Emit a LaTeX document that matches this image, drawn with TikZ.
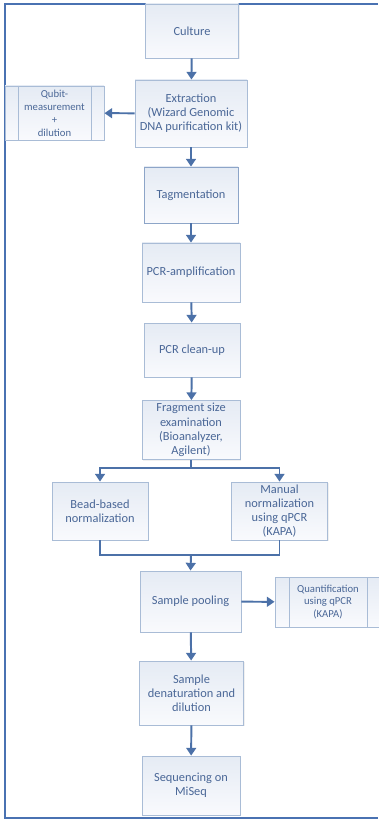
\documentclass[tikz,border=0pt]{standalone}
\usepackage{fontspec}
\setmainfont{Carlito}
\usetikzlibrary{arrows.meta,positioning,calc,shadows}
\definecolor{boxline}{HTML}{A9BCD6}
\definecolor{boxtop}{HTML}{E5EBF4}
\definecolor{boxbottom}{HTML}{F9FAFD}
\definecolor{boxtext}{HTML}{4A6797}
\definecolor{flowline}{HTML}{4C71A8}
\definecolor{framecol}{HTML}{4A72B2}

\begin{document}
\begin{tikzpicture}[
  x=0.025cm, y=-0.025cm,
  stepbox/.style={rectangle, draw=boxline, line width=0.6pt,
                  top color=boxtop, bottom color=boxbottom,
                  drop shadow={opacity=0.12, shadow xshift=0.8pt, shadow yshift=-0.8pt},
                  font=\fontsize{8.8}{10.1}\selectfont, text=boxtext, align=center,
                  inner sep=1pt},
  dims/.style 2 args={minimum width=#1*0.025cm, minimum height=#2*0.025cm},
  procbox/.style={stepbox, font=\fontsize{7.6}{9.2}\selectfont, path picture={
      \draw[boxline, line width=0.6pt]
        ([xshift=#1*0.025cm]path picture bounding box.north west) --
        ([xshift=#1*0.025cm]path picture bounding box.south west);
      \draw[boxline, line width=0.6pt]
        ([xshift=-#1*0.025cm]path picture bounding box.north east) --
        ([xshift=-#1*0.025cm]path picture bounding box.south east);}},
  flow/.style={draw=flowline, line width=1.4pt},
  >={Triangle[width=7pt,length=5.5pt]}
]
  \useasboundingbox (0,0) rectangle (378,819);

  % Frame
  \draw[framecol, line width=1.1pt] (378,4) -- (5,4) -- (5,818) -- (378,818);

  % Main steps
  \node[stepbox, dims={93}{54}]  (culture) at (192,31)    {Culture};
  \node[stepbox, dims={112}{67}] (extract) at (191,113.5) {Extraction\\(Wizard Genomic\\DNA purification kit)};
  \node[stepbox, dims={94}{56}, draw=boxline!70!flowline] (tag) at (191,195) {Tagmentation};
  \node[stepbox, dims={98}{59}]  (pcramp)  at (191,272.5) {PCR-amplification};
  \node[stepbox, dims={96}{54}]  (cleanup) at (192,350)   {PCR clean-up};
  \node[stepbox, dims={98}{59}]  (frag)    at (191,430)   {Fragment size\\examination\\(Bioanalyzer,\\Agilent)};
  \node[stepbox, dims={96}{58}]  (bead)    at (100,511)   {Bead-based\\normalization};
  \node[stepbox, dims={96}{58}]  (manual)  at (279.5,511) {Manual\\normalization\\using qPCR\\(KAPA)};
  \node[stepbox, dims={101}{61}] (pool)    at (190.5,601.5) {Sample pooling};
  \node[stepbox, dims={104}{64}] (denat)   at (191.5,693) {Sample\\denaturation and\\dilution};
  \node[stepbox, dims={98}{59}]  (seq)     at (191,785.5) {Sequencing on\\MiSeq};

  % Side processes
  \node[procbox=13, dims={99}{54}]  (qubit) at (54.5,113) {Qubit-\\measurement\\+\\dilution};
  \node[procbox=14, dims={106}{50}] (quant) at (328,602)  {Quantification\\using qPCR\\(KAPA)};

  % Arrows down the chain
  \draw[flow, ->] (culture) -- (extract);
  \draw[flow, ->] (extract) -- (qubit);
  \draw[flow, ->] (extract) -- (tag);
  \draw[flow, ->] (tag)     -- (pcramp);
  \draw[flow, ->] (pcramp)  -- (cleanup);
  \draw[flow, ->] (cleanup) -- (frag);

  % Split into two normalization routes
  \coordinate (split) at (191,468);
  \draw[flow] (frag.south) -- (split);
  \draw[flow, ->] (split) -| (bead.north);
  \draw[flow, ->] (split) -| (manual.north);

  % Merge back
  \coordinate (merge) at (191,555);
  \draw[flow] (bead.south) |- (merge);
  \draw[flow] (manual.south) |- (merge);
  \draw[flow, ->] (merge) -- (pool.north);

  \draw[flow, ->] (pool)  -- (quant);
  \draw[flow, ->] (pool)  -- (denat);
  \draw[flow, ->] (denat) -- (seq);
\end{tikzpicture}
\end{document}
